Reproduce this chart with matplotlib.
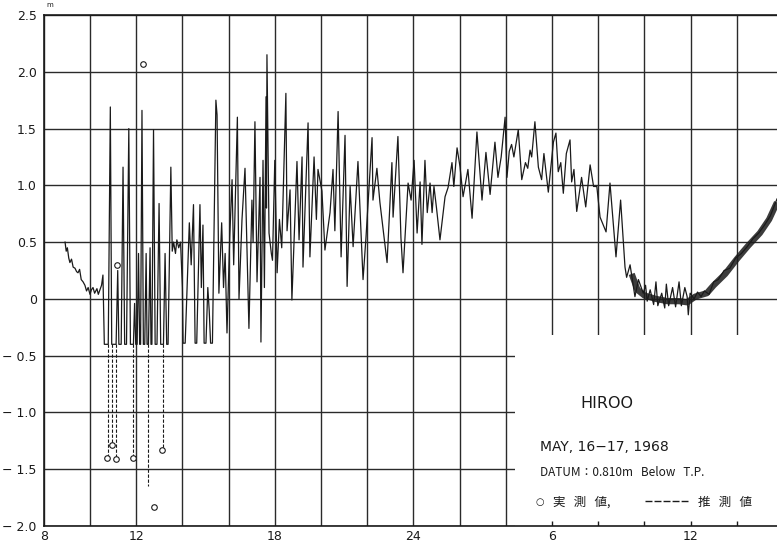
import matplotlib
matplotlib.use("Agg")
import matplotlib.pyplot as plt
from matplotlib.patches import Rectangle
from matplotlib.lines import Line2D

plt.rcParams['font.family'] = ['DejaVu Sans']

# time in hours from 0h May 16 (24 = midnight, 30 = 6h May 17), level in m
trace_t = [8.92, 8.97, 9.02, 9.08, 9.13, 9.20, 9.27, 9.35, 9.42, 9.48, 9.55, 9.62,
           9.70, 9.78, 9.85, 9.92, 10.00, 10.06, 10.13, 10.20, 10.30, 10.36, 10.43,
           10.50, 10.56,
           10.62, 10.79, 10.88, 10.94, 11.13, 11.20, 11.25, 11.35, 11.43, 11.50,
           11.58, 11.68, 11.75, 11.88, 11.93, 11.98, 12.04, 12.10, 12.15, 12.19,
           12.25, 12.31, 12.37, 12.43, 12.47, 12.53, 12.60, 12.64, 12.68, 12.75,
           12.82, 12.90, 12.99, 13.06, 13.18, 13.25, 13.32, 13.38, 13.50, 13.56,
           13.62, 13.70, 13.76, 13.84, 13.92, 14.00,
           14.03, 14.12, 14.30, 14.38, 14.48, 14.55, 14.62, 14.76, 14.82, 14.89,
           14.94, 15.02, 15.10, 15.16, 15.22, 15.30, 15.45, 15.50, 15.58, 15.70,
           15.78, 15.85, 15.93, 16.05, 16.15, 16.22, 16.38, 16.45, 16.58, 16.71,
           16.80, 16.88, 17.01, 17.06, 17.14, 17.23, 17.36, 17.40, 17.49, 17.55,
           17.62, 17.64, 17.66, 17.75, 17.85, 17.90, 18.00, 18.10, 18.20, 18.30,
           18.48, 18.53, 18.66, 18.74,
           18.96, 19.05, 19.18, 19.22, 19.44, 19.52, 19.70, 19.80, 19.87, 20.04,
           20.17, 20.39, 20.52, 20.60, 20.74, 20.87, 21.04, 21.13, 21.26, 21.39,
           21.60, 21.82, 21.95, 22.21, 22.25, 22.42, 22.55, 22.86, 23.07, 23.12,
           23.33, 23.46, 23.55, 23.77, 23.90, 24.03, 24.16, 24.29, 24.37, 24.50,
           24.60, 24.72, 24.81, 24.89, 25.00, 25.15, 25.37, 25.50, 25.67, 25.75,
           25.89, 26.02, 26.15, 26.28, 26.36, 26.54, 26.75, 26.97, 27.14, 27.32,
           27.53, 27.66, 27.80,
           27.97, 28.05, 28.15, 28.25, 28.35, 28.54, 28.69, 28.85, 28.95, 29.05,
           29.12, 29.26, 29.41, 29.55, 29.65, 29.84, 30.06, 30.17, 30.27, 30.38,
           30.49, 30.62, 30.78, 30.85, 30.95, 31.07, 31.28, 31.46, 31.65, 31.80,
           31.94, 32.08, 32.20, 32.34, 32.51, 32.77, 32.97, 33.16, 33.23, 33.38,
           33.59, 33.74, 33.95, 34.05, 34.12, 34.25, 34.40, 34.50, 34.58, 34.75,
           34.88, 34.95, 35.05, 35.22, 35.35, 35.50, 35.60, 35.75, 35.85, 35.90,
           35.98, 36.15, 36.30, 36.45, 36.60, 36.80, 37.00, 37.20, 37.45, 37.70,
           37.95, 38.20, 38.45, 38.70, 38.95, 39.20, 39.45, 39.74]
trace_v = [0.50, 0.42, 0.45, 0.36, 0.32, 0.35, 0.28, 0.27, 0.24, 0.23, 0.26, 0.17,
           0.15, 0.12, 0.07, 0.10, 0.04, 0.08, 0.10, 0.05, 0.09, 0.04, 0.08,
           0.12, 0.21,
           -0.40, -0.40, 1.69, -0.40, -0.40, 0.25, -0.40, -0.40, 1.16, -0.40,
           -0.40, 1.50, -0.40, -0.40, -0.04, -0.40, -0.40, 0.40, -0.40, -0.40,
           1.66, -0.40, -0.40, 0.40, -0.40, -0.40, 0.45, -0.40, -0.40, 1.49,
           -0.40, -0.40, 0.84, -0.40, -0.40, 0.40, -0.40, -0.40, 1.16, 0.42,
           0.50, 0.40, 0.52, 0.45, 0.50, 0.10,
           -0.39, -0.39, 0.67, 0.30, 0.83, -0.39, -0.39, 0.83, 0.10, 0.65,
           -0.39, -0.39, 0.10, -0.10, -0.39, -0.39, 1.75, 1.62, 0.05, 0.67,
           0.10, 0.40, -0.30, 0.55, 1.05, 0.30, 1.60, 0.00, 0.70, 1.15,
           0.40, -0.26, 0.87, 0.50, 1.56, 0.15, 1.07, -0.38, 1.22, 0.10,
           1.78, 0.80, 2.15, 0.58, 0.40, 0.34, 1.22, 0.23, 0.70, 0.45,
           1.81, 0.60, 0.96, -0.01,
           1.21, 0.52, 1.25, 0.28, 1.55, 0.37, 1.25, 0.70, 1.14, 0.95,
           0.43, 0.76, 1.14, 0.60, 1.65, 0.37, 1.44, 0.11, 0.99, 0.46,
           1.21, 0.17, 0.55, 1.42, 0.87, 1.15, 0.85, 0.32, 1.20, 0.72,
           1.43, 0.54, 0.23, 1.02, 0.87, 1.22, 0.58, 1.03, 0.48, 1.22,
           0.76, 1.02, 0.76, 0.99, 0.80, 0.52, 0.90, 0.98, 1.20, 0.99,
           1.33, 1.16, 0.90, 1.05, 1.14, 0.71, 1.47, 0.87, 1.29, 0.92,
           1.38, 1.07, 1.25,
           1.60, 1.07, 1.30, 1.36, 1.25, 1.49, 1.05, 1.20, 1.15, 1.31,
           1.25, 1.56, 1.16, 1.05, 1.28, 0.94, 1.38, 1.46, 1.12, 1.20,
           0.93, 1.28, 1.40, 1.03, 1.14, 0.77, 1.07, 0.81, 1.18, 0.99,
           0.99, 0.72, 0.66, 0.59, 1.02, 0.37, 0.87, 0.28, 0.19, 0.30,
           0.02, 0.17, 0.05, 0.12, -0.02, 0.08, -0.05, 0.15, -0.06, 0.05,
           -0.08, 0.13, -0.06, 0.10, -0.07, 0.15, -0.06, 0.10, 0.02, -0.14,
           0.05, 0.00, 0.06, 0.02, 0.07, 0.04, 0.15, 0.17, 0.25, 0.27,
           0.36, 0.40, 0.46, 0.53, 0.58, 0.65, 0.73, 0.88]

# thick fuzzy band of the record after the tsunami (centre line)
band_t = [33.45, 33.70, 34.00, 34.50, 35.00, 35.50, 35.85, 36.20, 36.70, 37.00,
          37.50, 38.00, 38.50, 39.00, 39.40, 39.74]
band_v = [0.22, 0.08, 0.03, 0.00, -0.02, -0.02, -0.03, 0.02, 0.05, 0.12,
          0.22, 0.35, 0.47, 0.58, 0.70, 0.85]

# 推測値: estimated troughs below the gauge limit
gauge_floor = -0.40
est_t = [10.78, 10.95, 11.13, 11.86, 12.51, 13.16]
est_v = [-1.39, -1.29, -1.40, -1.39, -1.65, -1.31]

# 実測値: observed values
obs_t = [10.74, 10.95, 11.13, 11.17, 11.86, 12.29, 12.77, 13.12]
obs_v = [-1.40, -1.29, -1.41, 0.30, -1.40, 2.07, -1.83, -1.33]

grid_hours = list(range(8, 40, 2))
xtick_pos = [8, 12, 18, 24, 30, 36]
xtick_lab = ["8", "12", "18", "24", "6", "12"]
ytick_pos = [2.5, 2.0, 1.5, 1.0, 0.5, 0.0, -0.5, -1.0, -1.5, -2.0]
ytick_lab = ["2.5", "2.0", "1.5", "1.0", "0.5", "0", "\u2212 0.5", "\u2212 1.0",
             "\u2212 1.5", "\u2212 2.0"]

ink = "#1a1a1a"

fig = plt.figure(figsize=(7.77, 5.47), dpi=100)
ax = fig.add_axes([43.8 / 777, 21 / 547, 1 - 43.8 / 777, 511 / 547])
ax.set_xlim(8, 39.74)
ax.set_ylim(-2.0, 2.5)

lab = dict(zip(xtick_pos, xtick_lab))
ax.set_xticks(grid_hours)
ax.set_xticklabels([lab.get(h, "") for h in grid_hours])
ax.set_yticks(ytick_pos)
ax.set_yticklabels(ytick_lab)
ax.tick_params(which="both", length=0, labelsize=9, colors=ink)
ax.tick_params(axis="y", pad=5)
ax.tick_params(axis="x", pad=3)
ax.grid(True, color="#2a2a2a", lw=1.0)
ax.set_axisbelow(True)
for s in ["left", "top", "bottom"]:
    ax.spines[s].set_color(ink)
    ax.spines[s].set_linewidth(1.2)
ax.spines["right"].set_visible(False)

# blank panel for the caption
ax.add_patch(Rectangle((28.4, -2.0), 12, 1.68, facecolor="white",
                       edgecolor="none", zorder=1))
ax.vlines([h for h in grid_hours if h > 28.4], -2.0, -1.96, color=ink,
          lw=1.0, zorder=2)

ax.plot(trace_t, trace_v, color=ink, lw=0.9, zorder=3)
ax.plot(band_t, band_v, color=ink, lw=4.5, alpha=0.85, zorder=3,
        solid_capstyle="butt")
for t, v in zip(est_t, est_v):
    ax.plot([t, t], [gauge_floor, v], color=ink, lw=0.8,
            linestyle=(0, (3, 1.5)), zorder=3)
ax.plot(obs_t, obs_v, linestyle="none", marker="o", markersize=4,
        markerfacecolor="white", markeredgecolor=ink, markeredgewidth=0.8,
        zorder=4)

fig.text(46 / 777, 1 - 5 / 547, "m", fontsize=5, color=ink, va="center")

jp = ["Noto Sans CJK JP", "DejaVu Sans"]
fig.text(607 / 777, 1 - 404 / 547, "HIROO", fontsize=11.5, ha="center",
         va="center", color=ink)
fig.text(540 / 777, 1 - 447 / 547, "MAY, 16\u221217, 1968", fontsize=10,
         va="center", color=ink)
fig.text(540 / 777, 1 - 473 / 547, "DATUM\uff1a0.810m   Below   T.P.",
         fontsize=8.5, va="center", color=ink, family=jp)
fig.text(536 / 777, 1 - 502 / 547, "\u25cb", fontsize=7, va="center",
         color=ink)
fig.text(553 / 777, 1 - 502 / 547, "実   測   値,", fontsize=9, va="center",
         color=ink, family=jp)
fig.add_artist(Line2D([645 / 777, 688 / 777], [1 - 501 / 547, 1 - 501 / 547],
                      transform=fig.transFigure, color=ink, lw=1.0,
                      linestyle=(0, (5, 1.5))))
fig.text(698 / 777, 1 - 502 / 547, "推   測   値", fontsize=9, va="center",
         color=ink, family=jp)

fig.savefig("out.png", dpi=100)
